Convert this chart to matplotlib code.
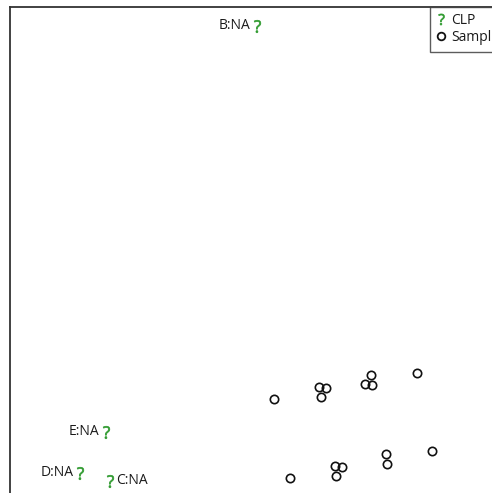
import matplotlib.pyplot as plt
from matplotlib.lines import Line2D

plt.rcParams['font.family'] = ['Open Sans', 'DejaVu Sans']
plt.rcParams['mathtext.fontset'] = 'custom'
plt.rcParams['mathtext.rm'] = 'Open Sans'

# ordination scores (axis 1 / axis 2)
sample_x = [2.64, 3.09, 3.16, 3.11, 3.61, 3.55, 3.62, 4.07,
            4.22, 3.76, 3.77, 3.25, 3.32, 3.26, 2.80]
sample_y = [0.94, 1.06, 1.05, 0.96, 1.18, 1.09, 1.08, 1.20,
            0.42, 0.39, 0.29, 0.27, 0.26, 0.17, 0.15]

clp_names = ['B:NA', 'E:NA', 'D:NA', 'C:NA']
clp_x = [2.47, 0.96, 0.70, 1.00]
clp_y = [4.67, 0.61, 0.20, 0.12]
clp_side = ['left', 'left', 'left', 'right']

W, H = 492, 493
fig = plt.figure(figsize=(W / 100, H / 100), dpi=100)
ax = fig.add_axes([10 / W, -0.03, 1.0, 1 - 7 / H + 0.03])

# axis ranges chosen so the plotting region runs past the figure edge
ax.set_xlim(0, 4.92)
ax.set_ylim(-0.148, 4.86)

ax.plot(sample_x, sample_y, 'o', ms=6, mfc='none', mec='#111111', mew=1.2,
        linestyle='none', zorder=3)
ax.plot(clp_x, clp_y, marker='$\\mathregular{?}$', ms=9, color='#2e9a2e',
        mew=0.5, linestyle='none', zorder=3)

for name, x, y, side in zip(clp_names, clp_x, clp_y, clp_side):
    dx = -4.5 if side == 'left' else 4.5
    ha = 'right' if side == 'left' else 'left'
    ax.annotate(name, (x, y), xytext=(dx, 0), textcoords='offset points',
                ha=ha, va='center', fontsize=10, color='#1a1a1a')

ax.set_xticks([])
ax.set_yticks([])
for s in ax.spines.values():
    s.set_color('#333333')
    s.set_linewidth(1.3)

handles = [
    Line2D([], [], marker='$\\mathregular{?}$', ms=8, color='#2e9a2e',
           mew=0.5, linestyle='none'),
    Line2D([], [], marker='o', ms=5.5, mfc='none', mec='#111111', mew=1.3,
           linestyle='none'),
]
leg = fig.legend(handles, ['CLP', 'Samples'], loc='upper left',
                 bbox_to_anchor=(430 / W, 1 - 7 / H), fontsize=10,
                 frameon=True, fancybox=False, handlelength=0.7,
                 handletextpad=0.4, borderpad=0.45, labelspacing=0.15,
                 borderaxespad=0)
leg.get_frame().set_edgecolor('#333333')
leg.get_frame().set_linewidth(1.0)
for t in leg.get_texts():
    t.set_color('#1a1a1a')

fig.savefig('out.png', dpi=100)
